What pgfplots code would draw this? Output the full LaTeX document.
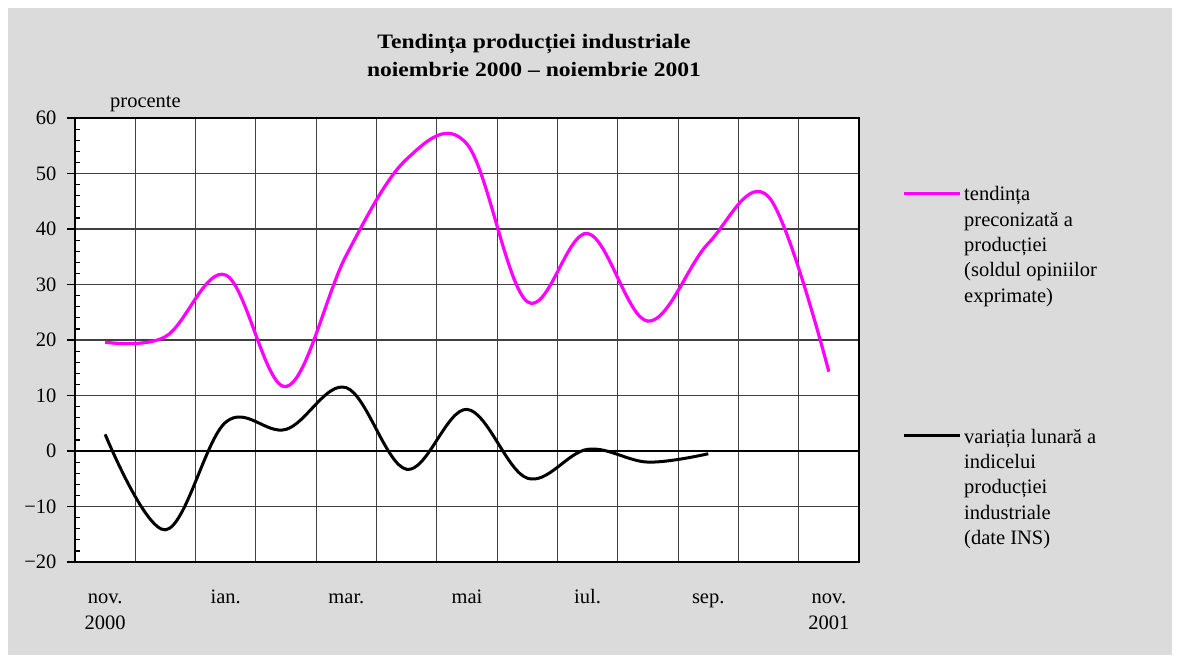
\documentclass[border=0pt]{standalone}
\usepackage{pgfplots}
\pgfplotsset{compat=1.18}
\usepackage{fontspec}
\setmainfont{Liberation Serif}
\newfontfamily\titlefont[FakeStretch=1.15]{Liberation Serif}
\definecolor{mag}{RGB}{255,0,255}
\begin{document}
\fontsize{20.5}{26}\selectfont
\begin{tikzpicture}[x=1pt,y=1pt]
\fill[white] (0,0) rectangle (1177,659);
\fill[black!14] (8,4) rectangle (1172,651);
\begin{axis}[
  at={(75pt,97pt)}, anchor=south west,
  scale only axis, width=784pt, height=444pt,
  xmin=-0.5, xmax=12.5, ymin=-20, ymax=60,
  axis background/.style={fill=white},
  axis line style={black, line width=1.2pt},
  xtick={-0.5,0.5,...,12.5}, xticklabels={},
  xmajorgrids, ymajorgrids,
  major grid style={black!75, line width=1.1pt},
  xtick pos=bottom, ytick pos=left,
  tick align=outside,
  major tick length=8pt, minor tick length=5pt,
  tick style={black, line width=1.2pt},
  xtick style={draw=none},
  minor y tick num=4,
  minor y tick style={xshift=5pt},
  ytick={-20,-10,...,60},
  yticklabels={−20,−10,0,10,20,30,40,50,60},
  ticklabel style={font=\fontsize{20.5}{26}\selectfont},
  yticklabel style={xshift=-3.5pt},
  extra x ticks={0,2,4,6,8,10,12},
  extra x tick labels={\strut nov.\\\strut 2000,\strut ian.,\strut mar.,\strut mai,\strut iul.,\strut sep.,\strut nov.\\\strut 2001},
  extra x tick style={grid=none, tick style={draw=none},
    tick label style={align=center, anchor=north, inner sep=0pt, yshift=-14.8pt}},
  clip=false,
]
\draw[black, line width=2.8pt] (axis cs:-0.5,0) -- (axis cs:12.5,0);
\addplot[mag, line width=3.2pt, smooth, tension=0.6] coordinates {
(0,19.6)(1,20.6)(2,31.7)(3,11.6)(4,35.3)(5,52.6)(6,55.3)(7,26.9)(8,39.2)(9,23.4)(10,37.4)(11,45.8)(12,14.3)};
\addplot[black, line width=3pt, smooth, tension=0.6] coordinates {
(0,3.0)(1,-14.2)(2,5.2)(3,3.9)(4,11.4)(5,-3.3)(6,7.5)(7,-4.9)(8,0.3)(9,-2.0)(10,-0.5)};
\end{axis}
\node[anchor=north, align=center, inner sep=0pt, font=\titlefont\bfseries\fontsize{20.5}{28}\selectfont] at (534,630.4) {\strut Tendința producției industriale\\noiembrie 2000 – noiembrie 2001};
\node[anchor=base west, inner sep=0pt] at (110,551.7) {procente};
\draw[mag, line width=3pt] (904,465.7) -- (960,465.7);
\node[anchor=north west, align=left, inner sep=0pt, font=\fontsize{20.5}{25.3}\selectfont] at (964,476) {\strut tendința\\preconizată a\\producției\\(soldul opiniilor\\exprimate)};
\draw[black, line width=3pt] (904,223.3) -- (960,223.3);
\node[anchor=north west, align=left, inner sep=0pt, font=\fontsize{20.5}{25.3}\selectfont] at (964,233.7) {\strut variația lunară a\\indicelui\\producției\\industriale\\(date INS)};
\end{tikzpicture}
\end{document}
